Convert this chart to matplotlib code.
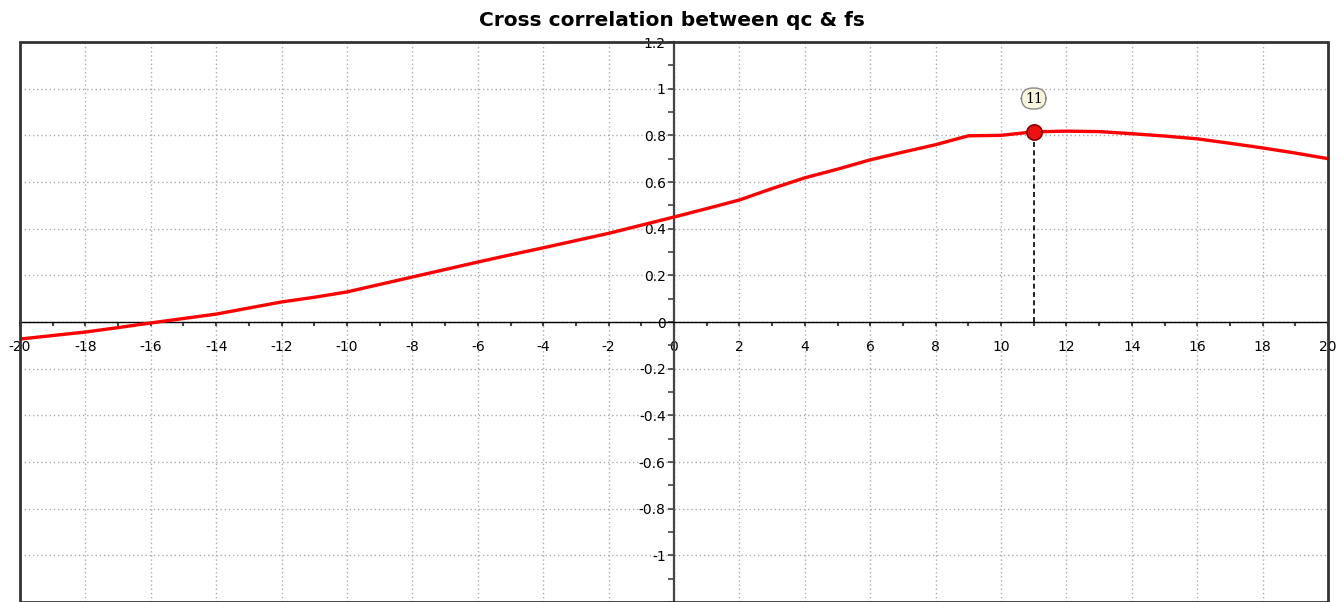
import matplotlib.pyplot as plt
import numpy as np
from matplotlib.patches import Rectangle
from matplotlib.ticker import MultipleLocator, FixedLocator

# Cross correlation of qc and fs at each lag
lags = list(range(-20, 21))
corr = [-0.073, -0.058, -0.043, -0.024, -0.004, 0.015, 0.034, 0.060, 0.086, 0.106,
        0.129, 0.161, 0.193, 0.225, 0.257, 0.288, 0.318, 0.349, 0.380, 0.415,
        0.450, 0.486, 0.523, 0.572, 0.618, 0.655, 0.695, 0.728, 0.760, 0.798,
        0.800, 0.815, 0.818, 0.816, 0.807, 0.797, 0.785, 0.766, 0.746, 0.724,
        0.700]
peak_lag = 11
peak_label = "11"
y_ticks = [-1.0, -0.8, -0.6, -0.4, -0.2, 0.0, 0.2, 0.4, 0.6, 0.8, 1.0, 1.2]

fig = plt.figure(figsize=(13.44, 6.02), dpi=100)
ax = fig.add_axes([20 / 1344, 0.0, 1308 / 1344, 1 - 42 / 602])

ax.set_xlim(-20, 20)
ax.set_ylim(-1.2, 1.2)

# axes through the origin
ax.spines['left'].set_position(('data', 0))
ax.spines['bottom'].set_position(('data', 0))
ax.spines['left'].set_color('#444444')
ax.spines['left'].set_linewidth(1.6)
ax.spines['bottom'].set_color('black')
ax.spines['bottom'].set_linewidth(1.0)
ax.spines['bottom'].set_linestyle((0, (1, 1)))
ax.spines['top'].set_visible(False)
ax.spines['right'].set_visible(False)

# outer frame
ax.add_patch(Rectangle((0, 0), 1, 1.0, transform=ax.transAxes, fill=False,
                       edgecolor='#333333', linewidth=2, clip_on=False, zorder=5))

ax.xaxis.set_major_locator(MultipleLocator(2))
ax.xaxis.set_minor_locator(MultipleLocator(1))
ax.yaxis.set_major_locator(FixedLocator(y_ticks))
ax.yaxis.set_minor_locator(MultipleLocator(0.1))
ax.xaxis.set_major_formatter(plt.FuncFormatter(lambda v, p: f"{v:g}"))
ax.yaxis.set_major_formatter(plt.FuncFormatter(lambda v, p: f"{v:g}"))

ax.tick_params(axis='x', which='major', direction='out', length=3, width=1.5,
               color='#444444', labelsize=10, pad=10)
ax.tick_params(axis='x', which='minor', direction='out', length=3, width=1.5,
               color='#444444')
ax.tick_params(axis='y', which='both', direction='out', length=4, width=1.2,
               color='#444444', labelsize=10, pad=2)

ax.grid(True, which='major', color='#aaaaaa', linestyle=(0, (1, 2)), linewidth=1.0)
ax.set_axisbelow(True)

ax.plot(lags, corr, color='#ff0000', linewidth=2.4, zorder=3)

peak_val = corr[lags.index(peak_lag)]
ax.plot([peak_lag, peak_lag], [0, peak_val], color='black', linestyle=(0, (3, 2)),
        linewidth=1.2, zorder=2)
ax.plot(peak_lag, peak_val, 'o', markersize=11, markerfacecolor='#ee1111',
        markeredgecolor='#880000', markeredgewidth=1.2, zorder=4)
ax.annotate(peak_label, (peak_lag, peak_val), xytext=(0, 24), textcoords='offset points',
            ha='center', va='center', fontsize=10, fontfamily='DejaVu Serif',
            bbox=dict(boxstyle='round,pad=0.25,rounding_size=0.8',
                      facecolor='#f7f5dc', edgecolor='#888888', linewidth=1))

fig.text(672 / 1344, 1 - 20 / 602, "Cross correlation between qc & fs",
         ha='center', va='center', fontsize=14.5, fontweight='bold')

fig.savefig('out.png', dpi=100)
